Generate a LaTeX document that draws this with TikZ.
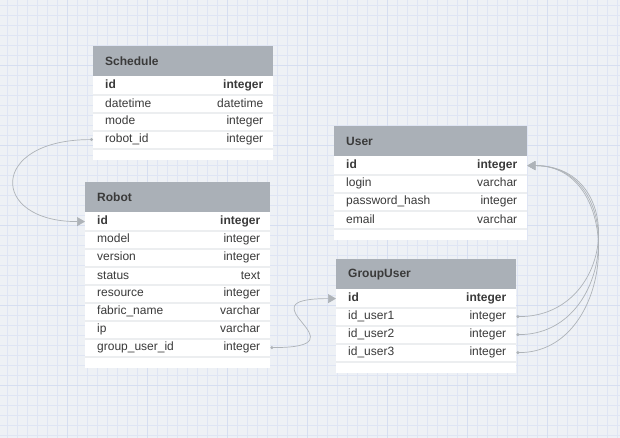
\documentclass[tikz,border=0pt]{standalone}
\usepackage{fontspec}
\setmainfont{Liberation Sans}
\usepackage{xcolor}
\usetikzlibrary{arrows.meta, positioning}

\definecolor{bggray}{HTML}{EEF1F5}
\definecolor{gridminor}{HTML}{DFE5F4}
\definecolor{gridmajor}{HTML}{D6DEF1}
\definecolor{headgray}{HTML}{AAB0B7}
\definecolor{rowline}{HTML}{ECEEF0}
\definecolor{txtgray}{HTML}{3A3A3A}
\definecolor{linkgray}{HTML}{AEB3B8}

\begin{document}
\begin{tikzpicture}[x=1pt, y=-1pt,
  tbody/.style={fill=white, anchor=north west, inner sep=0pt},
  thead/.style={fill=headgray, anchor=north west, inner sep=0pt, minimum height=30pt,
    font={\fontsize{12pt}{14pt}\selectfont\bfseries}, text=txtgray},
  field/.style={fill=white, anchor=north west, inner sep=0pt, minimum height=18pt,
    font={\fontsize{12pt}{14pt}\selectfont}, text=txtgray},
  sepline/.style={draw=rowline, line width=1.5pt},
  link/.style={draw=linkgray, line width=0.7pt,
    {Circle[length=3pt]}-{Triangle[length=8pt,width=9pt]}}]

\useasboundingbox (0,0) rectangle (620,438);
% grid paper
\fill[bggray] (0,0) rectangle (620,438);
\foreach \x in {7,17,...,617} \draw[gridminor, line width=0.5pt] (\x,0) -- (\x,438);
\foreach \y in {5,15,...,435} \draw[gridminor, line width=0.5pt] (0,\y) -- (620,\y);
\foreach \x in {67,147,...,547} \draw[gridmajor, line width=0.8pt] (\x,0) -- (\x,438);
\foreach \y in {65,145,...,385} \draw[gridmajor, line width=0.8pt] (0,\y) -- (620,\y);

% Schedule
\node[tbody, minimum width=180pt, minimum height=114pt] (schedbox) at (93,46) {};
\node[thead] (sched) at (93,46) {\makebox[180pt][l]{\hspace{12pt}Schedule}};
\foreach \nm/\ty [count=\i] in {\textbf{id}/\textbf{integer}, datetime/datetime, mode/integer, robot\_id/integer}
  \node[field, yshift={-(\i-1)*18pt}] (sched-\i) at (sched.south west)
    {\makebox[180pt][l]{\hspace{12pt}\nm\hfill\ty\hspace{10pt}}};
\foreach \i in {1,...,4} \draw[sepline] (sched-\i.south west) -- (sched-\i.south east);

% Robot
\node[tbody, minimum width=185pt, minimum height=186pt] (robbox) at (85,182) {};
\node[thead] (rob) at (85,182) {\makebox[185pt][l]{\hspace{12pt}Robot}};
\foreach \nm/\ty [count=\i] in {\textbf{id}/\textbf{integer}, model/integer, version/integer, status/text,
    resource/integer, fabric\_name/varchar, ip/varchar, group\_user\_id/integer}
  \node[field, yshift={-(\i-1)*18pt}] (rob-\i) at (rob.south west)
    {\makebox[185pt][l]{\hspace{12pt}\nm\hfill\ty\hspace{10pt}}};
\foreach \i in {1,...,8} \draw[sepline] (rob-\i.south west) -- (rob-\i.south east);

% User
\node[tbody, minimum width=193pt, minimum height=114pt] (userbox) at (334,126) {};
\node[thead] (user) at (334,126) {\makebox[193pt][l]{\hspace{12pt}User}};
\foreach \nm/\ty [count=\i] in {\textbf{id}/\textbf{integer}, login/varchar, password\_hash/integer, email/varchar}
  \node[field, yshift={-(\i-1)*18pt}] (user-\i) at (user.south west)
    {\makebox[193pt][l]{\hspace{12pt}\nm\hfill\ty\hspace{10pt}}};
\foreach \i in {1,...,4} \draw[sepline] (user-\i.south west) -- (user-\i.south east);

% GroupUser
\node[tbody, minimum width=180pt, minimum height=114pt] (gubox) at (336,259) {};
\node[thead] (gu) at (336,259) {\makebox[180pt][l]{\hspace{12pt}GroupUser}};
\foreach \nm/\ty [count=\i] in {\textbf{id}/\textbf{integer}, id\_user1/integer, id\_user2/integer, id\_user3/integer}
  \node[field, yshift={-(\i-1)*18pt}] (gu-\i) at (gu.south west)
    {\makebox[180pt][l]{\hspace{12pt}\nm\hfill\ty\hspace{10pt}}};
\foreach \i in {1,...,4} \draw[sepline] (gu-\i.south west) -- (gu-\i.south east);

% links
\draw[link] (sched-4.west) .. controls +(-104,0) and +(-96,0) .. (rob-1.west);
\draw[link] (rob-8.east) .. controls +(100,0) and +(-100,0) .. (gu-1.west);
\foreach \i in {2,3,4}
  \draw[link] (gu-\i.east) .. controls +(100,0) and +(100,0) .. (user-1.east);
\end{tikzpicture}
\end{document}
